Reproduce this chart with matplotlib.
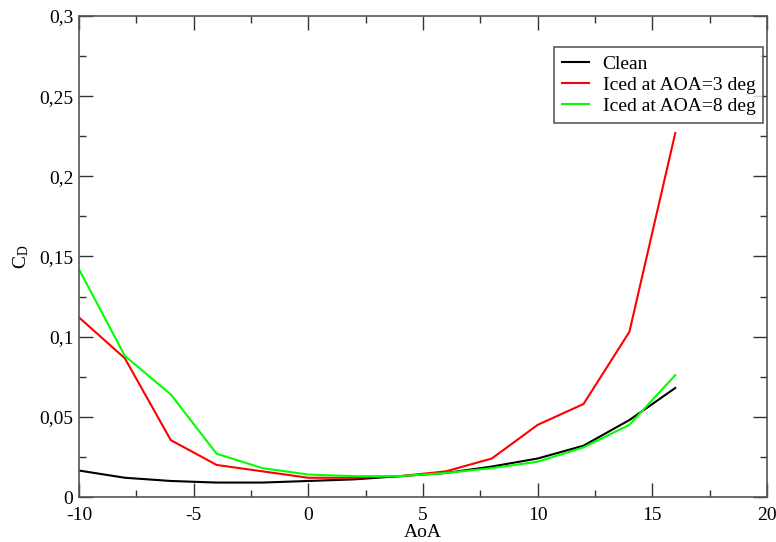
import numpy as np
import matplotlib.pyplot as plt
from matplotlib.ticker import MultipleLocator, FuncFormatter

plt.rcParams['font.family'] = ['Liberation Serif', 'DejaVu Serif']
plt.rcParams['mathtext.fontset'] = 'custom'
plt.rcParams['mathtext.rm'] = 'Liberation Serif'
plt.rcParams['mathtext.it'] = 'Liberation Serif'
plt.rcParams['axes.unicode_minus'] = False

aoa = [-10, -8, -6, -4, -2, 0, 2, 4, 6, 8, 10, 12, 14, 16]
cd_clean = [0.0165, 0.012, 0.010, 0.009, 0.009, 0.010, 0.011, 0.013, 0.015, 0.019, 0.024, 0.032, 0.048, 0.068]
cd_iced3 = [0.112, 0.0865, 0.0355, 0.020, 0.016, 0.012, 0.012, 0.013, 0.016, 0.024, 0.045, 0.058, 0.103, 0.227]
cd_iced8 = [0.142, 0.088, 0.064, 0.027, 0.018, 0.014, 0.013, 0.013, 0.015, 0.018, 0.022, 0.031, 0.045, 0.076]

fig = plt.figure(figsize=(7.76, 5.42), dpi=100)
ax = fig.add_axes([79 / 776, 45 / 542, 688 / 776, 481 / 542])

ax.plot(aoa, cd_clean, color='black', lw=1.5, label='Clean')
ax.plot(aoa, cd_iced3, color='#ff0000', lw=1.5, label='Iced at AOA=3 deg')
ax.plot(aoa, cd_iced8, color='#00ff00', lw=1.5, label='Iced at AOA=8 deg')

ax.set_xlim(-10, 20)
ax.set_ylim(0, 0.3)
ax.xaxis.set_major_locator(MultipleLocator(5))
ax.xaxis.set_minor_locator(MultipleLocator(2.5))
ax.yaxis.set_major_locator(MultipleLocator(0.05))
ax.yaxis.set_minor_locator(MultipleLocator(0.025))
ax.yaxis.set_major_formatter(FuncFormatter(lambda v, p: ('%g' % round(v, 4)).replace('.', ',')))

ax.tick_params(which='both', direction='in', top=True, right=True, labelsize=14,
               color='#333333', width=1)
ax.tick_params(which='major', length=10, pad=4)
ax.tick_params(axis='x', which='major', pad=7)
ax.tick_params(which='minor', length=5)
for s in ax.spines.values():
    s.set_color('#555555')
    s.set_linewidth(1.2)

ax.set_xlabel('AoA', fontsize=14, labelpad=0)
ax.set_ylabel(r'C$_\mathrm{D}$', fontsize=14, labelpad=6)

leg = ax.legend(loc='upper right', bbox_to_anchor=(0.9945, 0.935), fontsize=14,
                frameon=True, fancybox=False, handlelength=1.4, handletextpad=0.7,
                borderpad=0.4, labelspacing=0.18, borderaxespad=0)
leg.get_frame().set_edgecolor('#333333')
leg.get_frame().set_linewidth(1.2)

plt.savefig('out.png', dpi=100)
plt.close()
